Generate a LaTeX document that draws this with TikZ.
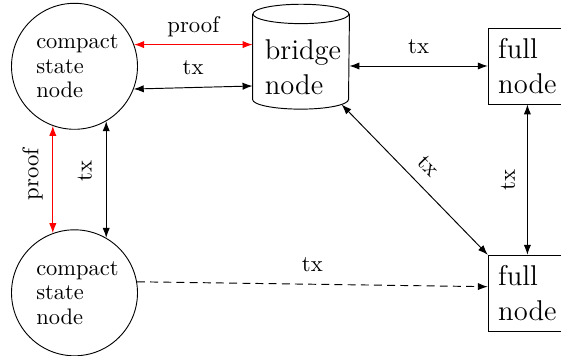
\documentclass[tikz,border=0pt]{standalone}
\usepackage{fontspec}
\usetikzlibrary{arrows.meta,calc}
\begin{document}
\begin{tikzpicture}[x=0.4405pt,y=-0.4405pt,
  >={Latex[length=4.4pt,width=3.2pt]},
  statenode/.style={circle,draw,minimum size=55.5pt,inner sep=0pt,align=left,font=\fontsize{9.9}{10.8}\selectfont},
  fullnode/.style={rectangle,draw,minimum height=33.5pt,inner xsep=4.4pt,inner ysep=0pt,align=left,font=\fontsize{12.6}{15.4}\selectfont},
  cylbody/.style={rectangle,minimum width=42.29pt,minimum height=45.81pt,inner sep=0pt},
  bigtext/.style={align=left,inner sep=0pt,font=\fontsize{12.6}{15.4}\selectfont},
  lbl/.style={font=\fontsize{10}{12}\selectfont,text depth=2pt,text=black},
  rlbl/.style={lbl,inner sep=4.2pt},
  link/.style={<->,line width=0.42pt},
  prooflink/.style={link,red},
  txdash/.style={->,line width=0.42pt,dash pattern=on 3.5pt off 2.3pt},
]
\useasboundingbox (0,0) rectangle (561,356);
\node[statenode] (c1) at (74.5,66.3) {\hspace*{2.6pt}compact\\\hspace*{2.6pt}state\\\hspace*{2.6pt}node};
\node[statenode] (c2) at (74.5,292.8) {\hspace*{2.6pt}compact\\\hspace*{2.6pt}state\\\hspace*{2.6pt}node};
\node[cylbody] (bridge) at (301,56.7) {};
\node[bigtext] (bridgelabel) at ($(bridge.center)+(2,10.1)$) {bridge\\node};
\draw[line width=0.42pt] ($(bridge.north west)+(0,9.7)$) -- ($(bridge.south west)+(0,-9.7)$)
  arc[start angle=180,end angle=360,x radius=21.14pt,y radius=4.27pt]
  -- ($(bridge.north east)+(0,9.7)$);
\draw[line width=0.42pt] ($(bridge.north)+(0,9.7)$) ellipse [x radius=21.14pt,y radius=4.27pt];
\node[fullnode] (full1) at (527.4,66) {full\\node};
\node[fullnode] (full2) at (527.4,293.3) {full\\node};

\draw[prooflink] (c1.20) -- (c1.20 -| bridge.west) node[lbl,midway,above]{proof};
\draw[link] (c1.-21) -- ($(bridge.west)+(0,29.3)$) node[lbl,midway,above]{tx};
\draw[link] (full1.west -| bridge.east) -- (full1.west) node[lbl,midway,above]{tx};
\draw[prooflink] (c1.250) -- (c2.110) node[rlbl,pos=0.45,rotate=90,above]{proof};
\draw[link] (c1.300) -- (c2.60) node[rlbl,pos=0.43,rotate=90,above]{tx};
\draw[link] (full1.south) -- (full2.north) node[lbl,midway,rotate=90,above]{tx};
\draw[link] ($(bridge.south)+(40.7,-4.6)$) -- (full2.north west) node[lbl,midway,sloped,above]{tx};
\draw[txdash] (c2.10) -- ($(full2.west)+(0,-6.6)$) node[lbl,midway,above]{tx};
\end{tikzpicture}
\end{document}
